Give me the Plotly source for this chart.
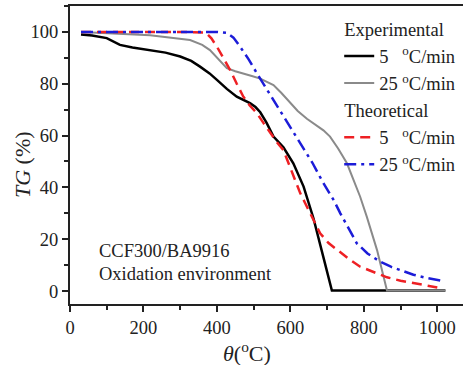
import plotly.graph_objects as go

# Temperature (°C) and mass retention TG (%) for each run
exp5_T = [30, 60, 100, 115, 136, 170, 218, 260, 300, 330, 354, 380, 400, 427, 454, 475,
          490, 505, 518, 535, 554, 581, 608, 636, 663, 690, 713, 1022]
exp5_TG = [99, 98.6, 97.6, 96.5, 95, 94, 93, 92, 90.5, 88.8, 86.6, 84, 81.5, 78, 75, 73.5,
           72.5, 71, 69, 65, 59.6, 55.5, 49.3, 40.3, 28, 13, 0.2, 0.2]

exp25_T = [30, 100, 218, 327, 360, 381, 405, 427, 450, 472, 495, 518, 540, 554, 575, 599,
           620, 645, 663, 690, 708, 730, 754, 775, 790, 808, 836, 863, 1022]
exp25_TG = [100, 99.6, 98.7, 96.9, 95, 93, 89.5, 86, 84.8, 84, 83, 82, 80.5, 79.5, 76.5, 72.8,
            69.5, 66.5, 64.7, 62, 59.6, 55, 49.3, 42, 36.4, 28.7, 15.8, 0.2, 0.2]

th5_T = [30, 100, 200, 300, 370, 385, 400, 418, 436, 454, 472, 490, 509, 527, 545, 563,
         581, 604, 627, 640, 658, 681, 704, 727, 760, 790, 830, 863, 900, 935, 970, 1000]
th5_TG = [100, 100, 100, 100, 99.7, 97.5, 94.3, 90, 85.3, 80, 75, 71.5, 68.6, 64.8, 60.9, 57.5,
          54.4, 46, 37.7, 34, 28.7, 22.3, 18.5, 15.8, 12.3, 9.4, 7, 5.3, 4, 3, 2.1, 1.4]

th25_T = [30, 100, 200, 300, 400, 427, 445, 463, 486, 509, 531, 554, 586, 627, 660, 690,
          718, 736, 760, 781, 810, 845, 875, 908, 935, 963, 990, 1013]
th25_TG = [100, 100, 100, 100, 100, 99.6, 97.8, 94.3, 89.5, 84, 79, 73.7, 66.3, 57, 49.5, 41.6,
           35.1, 30, 23.5, 18.4, 14.5, 11.3, 9.3, 7.5, 6.3, 5.3, 4.5, 3.9]

x_ticks = [0, 200, 400, 600, 800, 1000]
y_ticks = [0, 20, 40, 60, 80, 100]

SERIF = "Liberation Serif, Times New Roman, serif"
INK = "#222"
rate5 = "5\u2007 <sup>o</sup>C/min"
rate25 = "25 <sup>o</sup>C/min"


def txt(size=18.5):
    return dict(family=SERIF, size=size, color=INK)


fig = go.Figure()
fig.add_trace(go.Scatter(x=exp5_T, y=exp5_TG, mode="lines", name=rate5,
                         line=dict(color="black", width=2.5),
                         legendgroup="exp", legendgrouptitle=dict(text="Experimental")))
fig.add_trace(go.Scatter(x=exp25_T, y=exp25_TG, mode="lines", name=rate25,
                         line=dict(color="#8a8a8a", width=2),
                         legendgroup="exp"))
fig.add_trace(go.Scatter(x=th5_T, y=th5_TG, mode="lines", name=rate5,
                         line=dict(color="#ee2024", width=2.5, dash="10px,6px"),
                         legendgroup="th", legendgrouptitle=dict(text="Theoretical")))
fig.add_trace(go.Scatter(x=th25_T, y=th25_TG, mode="lines", name=rate25,
                         line=dict(color="#1c1cd8", width=2.5, dash="12px,5px,3px,5px"),
                         legendgroup="th"))

axis_common = dict(showgrid=False, zeroline=False, showline=True, linecolor=INK,
                   linewidth=2, ticks="outside", ticklen=6, tickwidth=1.5,
                   tickcolor=INK, tickfont=txt())

fig.update_layout(
    width=465, height=365,
    margin=dict(l=70, r=2, t=6, b=61),
    paper_bgcolor="white", plot_bgcolor="white",
    font=txt(),
    showlegend=True,
    legend=dict(x=0.685, y=0.985, xanchor="left", yanchor="top",
                bgcolor="rgba(0,0,0,0)", tracegroupgap=0,
                font=txt(), grouptitlefont=txt()),
    xaxis=dict(range=[0, 1070], tickvals=x_ticks, mirror=True,
               minor=dict(dtick=100, tick0=0, ticks="outside", ticklen=4,
                          tickwidth=1.5, tickcolor=INK),
               **axis_common),
    yaxis=dict(range=[-5, 110], tickvals=y_ticks, mirror=False,
               minor=dict(dtick=10, tick0=0, ticks="outside", ticklen=4,
                          tickwidth=1.5, tickcolor=INK),
               **axis_common),
    annotations=[
        dict(text="CCF300/BA9916", x=0.069, y=0.178, xref="paper", yref="paper",
             xanchor="left", yanchor="middle", showarrow=False, font=txt()),
        dict(text="Oxidation environment", x=0.069, y=0.10, xref="paper", yref="paper",
             xanchor="left", yanchor="middle", showarrow=False, font=txt()),
        dict(text="<i>θ</i>(<sup>o</sup>C)", x=(247 - 70) / 393, y=-0.161,
             xref="paper", yref="paper", xanchor="center", yanchor="middle",
             showarrow=False, font=txt(22)),
        dict(text="<i>TG</i> (%)", x=-0.122, y=(304 - 165) / 298,
             xref="paper", yref="paper", xanchor="center", yanchor="middle",
             textangle=-90, showarrow=False, font=txt(22)),
    ],
)

fig.write_html("out.html")
